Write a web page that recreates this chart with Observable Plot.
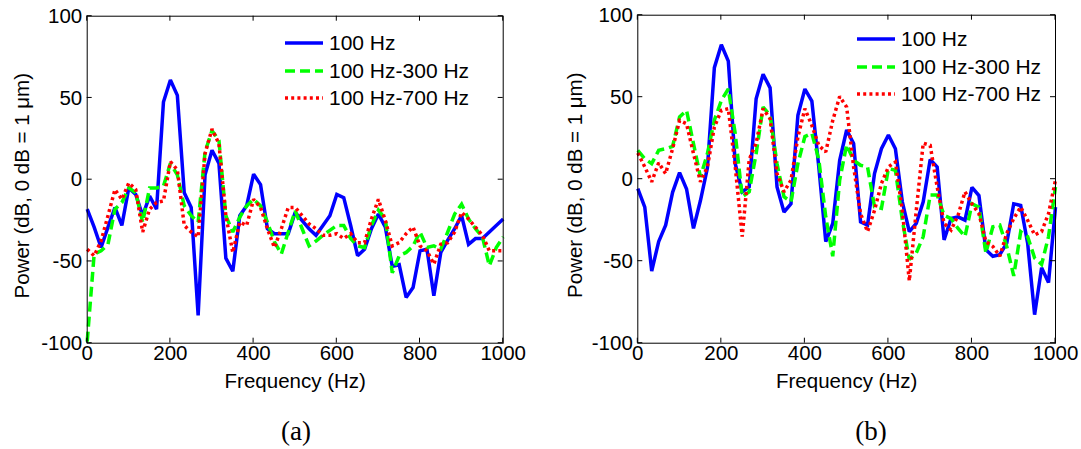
<!DOCTYPE html>
<html>
<head>
<meta charset="utf-8">
<script src="https://cdn.jsdelivr.net/npm/d3@7"></script>
<script src="https://cdn.jsdelivr.net/npm/@observablehq/plot@0.6"></script>
<style>
  body { margin: 0; background: #fff; }
  #wrap { position: relative; width: 1081px; height: 449px; overflow: hidden; font-family: "Liberation Sans", Arial, sans-serif; }
  .panel { position: absolute; top: 0; }
  .legend { position: absolute; font-size: 21px; color: #000; }
  .legend .row { position: absolute; white-space: nowrap; display: flex; align-items: center; height: 26px; }
  .legend svg { margin-right: 6px; }
  .cap { position: absolute; font-family: "Liberation Serif", "Times New Roman", serif; font-size: 27px; transform: translate(-50%, -50%); }
</style>
</head>
<body>
<div id="wrap"></div>
<script>
// frequency bins (Hz)
const freq = [0, 16.7, 33.3, 50, 66.7, 83.3, 100, 116.7, 133.3, 150, 166.7, 183.3, 200, 216.7, 233.3, 250, 266.7, 283.3, 300, 316.7, 333.3, 350, 366.7, 383.3, 400, 416.7, 433.3, 450, 466.7, 483.3, 500, 516.7, 533.3, 550, 566.7, 583.3, 600, 616.7, 633.3, 650, 666.7, 683.3, 700, 716.7, 733.3, 750, 766.7, 783.3, 800, 816.7, 833.3, 850, 866.7, 883.3, 900, 916.7, 933.3, 950, 966.7, 983.3, 1000];

const seriesNames = ["100 Hz", "100 Hz-300 Hz", "100 Hz-700 Hz"];
const xTicks = [0, 200, 400, 600, 800, 1000];
const yTicks = [-100, -50, 0, 50, 100];
const xLabel = "Frequency (Hz)";
const yLabel = "Power (dB, 0 dB = 1 μm)";
const captions = ["(a)", "(b)"];

// Panel (a)
const a100 = [-18, -29, -41.5, -29, -17, -28, -5, -9, -22, -10, -18, 47.5, 61, 51.6, -8, -17, -83, 3, 18, 10, -48, -56, -22, -16, 3.4, -3, -30, -33, -33, -33, -20, -25, -30, -34, -28, -22, -9, -11, -28, -46.5, -42.5, -30, -21, -29, -53, -52, -72, -66, -43.5, -42.5, -71, -44.5, -37, -30, -22, -39.5, -36, -36, -32, -28, -24];
const a300 = [-99, -45.5, -43.5, -39.5, -18, -14, -5, -8, -26, -5, -5, -4, 10, 3, -16, -22, -26, 17, 30, 24, -22, -32, -23, -16, -12, -16, -26, -38, -45.5, -32, -19, -30, -40.5, -37.5, -34, -31, -28, -28, -36, -40.5, -41.5, -28, -18.6, -24, -57, -46.5, -44.5, -40.5, -32, -41.5, -40.5, -42.5, -32, -21, -15, -24, -30, -35, -52.6, -41.5, -35];
const a700 = [-42.5, -46.5, -37.5, -22, -6, -12, -2, -6, -32, -18, -14, -13, 11, 6, -28, -32, -35, 16, 31, 22, -22, -44.5, -26, -28, -12, -17, -30, -41.5, -30, -17, -17, -22, -27, -30, -34, -34, -33, -36, -33, -38.5, -38.5, -24, -12, -25, -40.5, -38.5, -33, -29, -40.5, -43.5, -51.6, -39.5, -38.5, -32, -20, -24, -29, -34, -43.5, -43.5, -43.5];

// Panel (b)
const b100 = [-5.7, -17, -56, -38, -28, -8, 4, -6, -30, -13, 7, 68, 82, 72, 9.5, -7.7, -4.7, 49, 64, 55.7, -4.7, -20, -15, 39, 55, 47.6, 7.5, -38, -27, 11.5, 30, 21.7, -26, -28, 3.4, 18.6, 27, 18.6, -13.8, -32, -27, -13.8, 12, 7.5, -37, -24, -23, -25, -5, -10, -43, -47, -46, -39, -15, -16, -39, -82.6, -54, -63, -17];
const b300 = [17.6, 12.5, 9.5, 17.6, 18.6, 20, 38, 42, 21.7, 1.4, 15.6, 36, 48, 55, 27.7, -10.7, -7.7, 15.6, 44, 39, 9.5, -10.7, -13.8, 9.5, 26, 28, 12, -23, -47, -0.6, 21, 11.5, 8.5, 7.5, -16.8, -17.8, 6.5, 5.5, -25, -49, -45, -35, -9.7, -9.7, -22, -24, -30, -35, -15, -17, -45, -29, -28, -41, -59, -32, -35, -48, -52, -35, -4.7];
const b700 = [16, 7.5, -1.6, 10, 3.4, 18.6, 35.8, 33.8, 15.6, -1.6, 7.5, 31.8, 42, 43, 7.5, -35, 12, 22, 43, 36.8, 3.4, -7.7, -0.6, 25.7, 43, 32.8, 20.6, 16.6, 35.8, 50.4, 44, 7.5, -21, -32, -19, -2.6, 7.5, 10.5, -19, -62, -19, 22, 20.6, -4.7, -27, -31, -22, -7.7, -15, -21, -38, -41, -47, -33, -24, -17, -25, -34, -32, -21, -0.6];

const styles = [
  {stroke: "#0000ff", strokeDasharray: null},
  {stroke: "#00ff00", strokeDasharray: "10,5"},
  {stroke: "#ff0000", strokeDasharray: "3,3.2"}
];
const LW = 3.5;
const FS = 20.5;

function toRows(vals) { return freq.map((f, i) => ({f, v: vals[i]})); }

function inwardTicks(len) {
  return (index, scales, values, dims) => {
    const {x, y} = scales;
    const {width, height, marginLeft, marginRight, marginTop, marginBottom} = dims;
    const x0 = marginLeft, x1 = width - marginRight, y0 = marginTop, y1 = height - marginBottom;
    const g = d3.create("svg:g").attr("stroke", "#000").attr("stroke-width", 1).attr("fill", "none");
    for (const t of xTicks) {
      const px = x(t);
      g.append("line").attr("x1", px).attr("x2", px).attr("y1", y1).attr("y2", y1 - len);
      g.append("line").attr("x1", px).attr("x2", px).attr("y1", y0).attr("y2", y0 + len);
    }
    for (const t of yTicks) {
      const py = y(t);
      g.append("line").attr("x1", x0).attr("x2", x0 + len).attr("y1", py).attr("y2", py);
      g.append("line").attr("x1", x1).attr("x2", x1 - len).attr("y1", py).attr("y2", py);
    }
    return g.node();
  };
}

function panel(series, opts) {
  return Plot.plot({
    width: opts.width,
    height: 400,
    marginLeft: opts.ml,
    marginRight: opts.mr,
    marginTop: opts.mt,
    marginBottom: 400 - 342.7,
    style: {fontFamily: '"Liberation Sans", Arial, sans-serif', fontSize: FS + "px", color: "#000", background: "transparent", overflow: "visible"},
    x: {domain: [0, 1000]},
    y: {domain: [-100, 100]},
    marks: [
      ...series.map((vals, k) => Plot.line(toRows(vals), {
        x: "f", y: "v", stroke: styles[k].stroke, strokeWidth: LW,
        strokeDasharray: styles[k].strokeDasharray, strokeLinejoin: "miter", strokeLinecap: "butt", strokeMiterlimit: 2
      })),
      Plot.frame({stroke: "#000", strokeWidth: 1}),
      inwardTicks(5),
      Plot.axisX({ticks: xTicks, tickSize: 0, tickPadding: 2, tickFormat: d => String(d), label: null, fontSize: FS}),
      Plot.axisY({ticks: yTicks, tickSize: 0, tickPadding: 5, tickFormat: d => String(d), label: null, fontSize: FS}),
      Plot.text([xLabel], {frameAnchor: "bottom", dy: 38, lineAnchor: "middle", textAnchor: "middle", fontSize: FS, fill: "#000"}),
      Plot.text([yLabel], {frameAnchor: "left", rotate: -90, dx: opts.ylabDx, dy: 6, lineAnchor: "middle", textAnchor: "middle", fontSize: FS, fill: "#000"})
    ]
  });
}

const wrap = document.getElementById("wrap");

const pa = panel([a100, a300, a700], {width: 540, ml: 86.7, mr: 540 - 502.7, mt: 15.7, ylabDx: -65});
pa.classList.add("panel"); pa.style.left = "0px";
wrap.appendChild(pa);

const pb = panel([b100, b300, b700], {width: 541, ml: 637.3 - 540, mr: 1081 - 1055, mt: 14.7, ylabDx: -62.5});
pb.classList.add("panel"); pb.style.left = "540px";
wrap.appendChild(pb);

function legend(left, top) {
  const lg = document.createElement("div");
  lg.className = "legend";
  lg.style.left = left + "px";
  lg.style.top = top + "px";
  seriesNames.forEach((name, k) => {
    const row = document.createElement("div");
    row.className = "row";
    row.style.top = (k * 27.5) + "px";
    const ns = "http://www.w3.org/2000/svg";
    const s = document.createElementNS(ns, "svg");
    s.setAttribute("width", 38); s.setAttribute("height", 10);
    const ln = document.createElementNS(ns, "line");
    ln.setAttribute("x1", 0); ln.setAttribute("x2", 38); ln.setAttribute("y1", 5); ln.setAttribute("y2", 5);
    ln.setAttribute("stroke", styles[k].stroke); ln.setAttribute("stroke-width", LW);
    if (styles[k].strokeDasharray) ln.setAttribute("stroke-dasharray", styles[k].strokeDasharray);
    s.appendChild(ln);
    row.appendChild(s);
    const t = document.createElement("span");
    t.textContent = name;
    row.appendChild(t);
    lg.appendChild(row);
  });
  wrap.appendChild(lg);
}
legend(285, 30);
legend(857, 26);

[[296, 431], [871, 431]].forEach(([cx, cy], i) => {
  const c = document.createElement("div");
  c.className = "cap";
  c.style.left = cx + "px"; c.style.top = cy + "px";
  c.textContent = captions[i];
  wrap.appendChild(c);
});
</script>
</body>
</html>
